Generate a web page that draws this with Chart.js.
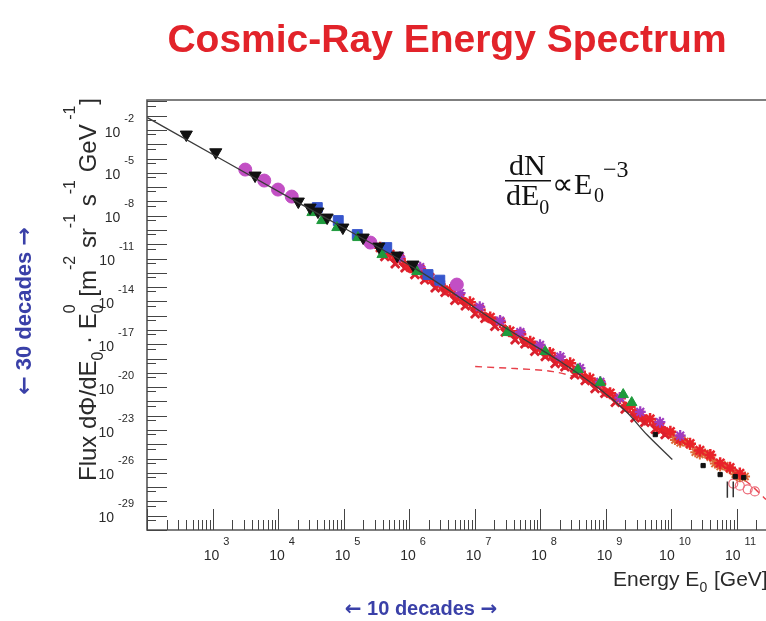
<!DOCTYPE html>
<html>
<head>
<meta charset="utf-8">
<script src="https://cdn.jsdelivr.net/npm/chart.js@4.4.1/dist/chart.umd.min.js"></script>
<style>
  html, body { margin: 0; padding: 0; background: #fff; }
  canvas { display: block; }
</style>
</head>
<body>
<canvas id="spectrum" width="766" height="621"></canvas>
<script>
// values, as log10 (E in GeV, flux in m^-2 sr^-1 s^-1 GeV^-1)
const xTickExps = [3, 4, 5, 6, 7, 8, 9, 10, 11];
const yTickExps = [-2, -5, -8, -11, -14, -17, -20, -23, -26, -29];

const blackTriE = [2.60, 3.05, 3.65, 4.31, 4.49, 4.61, 4.75, 4.99, 5.30, 5.54, 5.82, 6.06];
const blackTriF = [-2.32, -3.56, -5.19, -7.01, -7.43, -7.71, -8.13, -8.83, -9.53, -10.16, -10.79, -11.42];

const magentaE = [3.50, 3.79, 4.00, 4.21, 5.41, 6.73];
const magentaF = [-4.77, -5.54, -6.17, -6.66, -9.88, -12.82];

const greenE = [4.52, 4.67, 4.90, 5.22, 5.59, 6.12, 7.50, 8.08, 8.58, 8.92, 9.27, 9.40];
const greenF = [-7.78, -8.34, -8.83, -9.53, -10.72, -11.91, -16.18, -17.51, -18.77, -19.68, -20.52, -21.08];

const blueE = [4.60, 4.92, 5.21, 5.66, 6.29, 6.47];
const blueF = [-7.43, -8.34, -9.32, -10.23, -12.12, -12.51];

const purpleE = [5.86, 6.17, 6.47, 6.78, 7.08, 7.39, 7.70, 8.00, 8.31, 8.61, 8.92, 9.22, 9.53, 9.83, 10.14];
const purpleF = [-10.88, -11.60, -12.61, -13.42, -14.38, -15.34, -16.15, -17.04, -17.86, -18.67, -19.63, -20.73, -21.73, -22.45, -23.39];

const redStarE = [5.56, 5.71, 5.86, 6.02, 6.17, 6.32, 6.47, 6.63, 6.78, 6.93, 7.08, 7.24, 7.39, 7.54, 7.70, 7.85, 8.00, 8.15, 8.31, 8.46,
  8.61, 8.76, 8.92, 9.07, 9.22, 9.37, 9.53, 9.68, 9.83, 9.99, 10.14, 10.29, 10.44, 10.60, 10.75, 10.90, 11.05];
const redStarF = [-10.24, -10.71, -11.03, -11.60, -11.75, -12.34, -12.81, -13.20, -13.77, -14.06, -14.58, -15.12, -15.44, -16.08, -16.30,
  -16.82, -17.29, -17.61, -18.11, -18.33, -18.92, -19.39, -19.78, -20.42, -20.78, -21.37, -21.98, -22.23, -22.80, -23.12,
  -23.64, -23.96, -24.43, -24.75, -25.32, -25.64, -26.04];

const redCrossE = [5.63, 5.79, 5.94, 6.09, 6.24, 6.40, 6.55, 6.70, 6.86, 7.01, 7.16, 7.31, 7.47, 7.62, 7.77, 7.92, 8.08, 8.23, 8.38, 8.53,
  8.69, 8.84, 8.99, 9.15, 9.30, 9.45, 9.60, 9.76, 9.91];
const redCrossF = [-10.85, -11.37, -11.64, -12.12, -12.49, -13.05, -13.35, -13.91, -14.31, -14.87, -15.18, -15.73, -16.14, -16.69, -16.96,
  -17.48, -17.85, -18.34, -18.57, -19.13, -19.53, -20.09, -20.43, -21.05, -21.53, -22.15, -22.46, -22.94, -23.31];

// middle of the dense red band
const redMidE = [5.63, 5.79, 5.94, 6.09, 6.24, 6.40, 6.55, 6.70, 6.86, 7.01, 7.16, 7.31, 7.47, 7.62, 7.77, 7.92, 8.08, 8.23, 8.38, 8.53,
  8.69, 8.84, 8.99, 9.15, 9.30, 9.45, 9.60, 9.76, 9.91];
const redMidF = [-10.60, -11.10, -11.45, -11.85, -12.30, -12.70, -13.22, -13.62, -14.12, -14.52, -15.05, -15.45, -15.96, -16.36, -16.83,
  -17.20, -17.67, -18.02, -18.45, -18.85, -19.35, -19.76, -20.30, -20.78, -21.36, -21.82, -22.33, -22.66, -23.14];

const orangeE = [9.99, 10.06, 10.14, 10.21, 10.29, 10.37, 10.44, 10.52, 10.60, 10.67, 10.75, 10.82, 10.90, 10.98, 11.05, 11.13];
const orangeF = [-23.25, -23.70, -23.90, -23.80, -24.05, -24.55, -24.72, -24.65, -24.90, -25.35, -25.55, -25.50, -25.75, -26.10, -26.30, -26.25];

const openCircE = [10.95, 11.05, 11.17, 11.28];
const openCircF = [-26.75, -26.90, -27.15, -27.30];

const blackDotE = [9.76, 10.49, 10.75, 10.98, 11.11];
const blackDotF = [-23.32, -25.49, -26.12, -26.26, -26.33];

const barE = [10.86, 10.95];
const barTopF = [-26.60, -26.60];
const barLowF = [-27.75, -27.70];

// model curves
const galacticE = [2.0, 4.31, 6.17, 7.39, 8.31, 8.92, 9.33, 9.63, 10.02];
const galacticF = [-1.12, -7.08, -11.91, -15.62, -18.21, -20.17, -21.78, -23.32, -25.07];

const extraE = [7.01, 7.62, 8.20, 8.69, 9.22, 9.60, 10.29, 10.90, 11.21, 11.45];
const extraF = [-18.56, -18.70, -18.91, -19.54, -20.94, -22.13, -24.09, -25.77, -26.82, -27.87];

const pts = (le, lf) => le.map((e, i) => ({ x: 10 ** e, y: 10 ** lf[i] }));
const bars = barE.flatMap((e, i) => [
  { x: 10 ** e, y: 10 ** barTopF[i] },
  { x: 10 ** e, y: 10 ** barLowF[i] },
  { x: 10 ** e, y: null },
]);

const SANS = '"Liberation Sans", Arial, Helvetica, sans-serif';
const SERIF = '"Liberation Serif", "Times New Roman", serif';
const ARROW = '"DejaVu Sans", sans-serif';

function powerLabel(ctx, exp, x, y, mode) {
  ctx.font = '14px ' + SANS;
  const wb = ctx.measureText('10').width;
  ctx.font = '11px ' + SANS;
  const we = ctx.measureText(exp).width;
  const gap = 4;
  const total = wb + gap + we;
  const left = mode === 'right' ? x - total : x - total / 2;
  ctx.font = '14px ' + SANS;
  ctx.fillText('10', left, y);
  ctx.font = '11px ' + SANS;
  ctx.fillText(exp, left + wb + gap, y - 15);
}

// parts: [text, kind], kind = '', 'sub', 'sup' or 'both'
function rich(ctx, parts, x, y, size, family, supShift) {
  let cx = x;
  const small = Math.round(size * 0.65);
  const up = supShift || size * 0.75;
  parts.forEach(([t, kind]) => {
    if (!kind) {
      ctx.font = size + 'px ' + family;
      ctx.fillText(t, cx, y);
      cx += ctx.measureText(t).width;
      return;
    }
    ctx.font = small + 'px ' + family;
    if (kind === 'sub' || kind === 'both') ctx.fillText(t, cx, y + size * 0.3);
    if (kind === 'sup' || kind === 'both') ctx.fillText(t, cx, y - up);
    cx += ctx.measureText(t).width + 1;
  });
  return cx - x;
}

// centred run of [text, font] pieces
function centredRun(ctx, pieces, cx, y) {
  const widths = pieces.map(([t, f]) => { ctx.font = f; return ctx.measureText(t).width; });
  let x = cx - widths.reduce((s, w) => s + w, 0) / 2;
  ctx.textAlign = 'left';
  pieces.forEach(([t, f], i) => { ctx.font = f; ctx.fillText(t, x, y); x += widths[i]; });
}

const decor = {
  id: 'decor',
  beforeDraw(chart) {
    const c = chart.ctx;
    c.save();
    c.fillStyle = '#fff';
    c.fillRect(0, 0, chart.width, chart.height);
    c.restore();
  },
  afterDraw(chart) {
    const ctx = chart.ctx;
    const xs = chart.scales.x, ys = chart.scales.y, a = chart.chartArea;
    ctx.save();

    // frame
    ctx.strokeStyle = '#555';
    ctx.lineWidth = 1.6;
    ctx.beginPath();
    ctx.moveTo(a.right, a.top);
    ctx.lineTo(a.left, a.top);
    ctx.lineTo(a.left, a.bottom);
    ctx.lineTo(a.right, a.bottom);
    ctx.stroke();

    // inside ticks
    ctx.strokeStyle = '#444';
    ctx.lineWidth = 1;
    ctx.beginPath();
    for (let d = 2; d <= 11; d++) {
      for (let m = 1; m <= 9; m++) {
        const v = m * 10 ** d;
        if (v > xs.max) break;
        const px = Math.round(xs.getPixelForValue(v)) + 0.5;
        ctx.moveTo(px, a.bottom);
        ctx.lineTo(px, a.bottom - (m === 1 ? 21 : 10));
      }
    }
    for (let d = -30; d <= 0; d++) {
      const py = Math.round(ys.getPixelForValue(10 ** d)) + 0.5;
      if (py > a.top + 1) { ctx.moveTo(a.left, py); ctx.lineTo(a.left + 20, py); }
      const ps = Math.round(ys.getPixelForValue(5 * 10 ** (d - 1))) + 0.5;
      if (ps > a.top + 1 && ps < a.bottom - 1) { ctx.moveTo(a.left, ps); ctx.lineTo(a.left + 9, ps); }
    }
    ctx.stroke();

    // tick labels
    ctx.fillStyle = '#2a2a2a';
    ctx.textAlign = 'left';
    ctx.textBaseline = 'alphabetic';
    xTickExps.forEach((e) => {
      powerLabel(ctx, String(e), xs.getPixelForValue(10 ** e) + 4, 560, 'center');
    });
    yTickExps.forEach((e) => {
      powerLabel(ctx, String(e), 134, ys.getPixelForValue(10 ** e) + 6.5, 'right');
    });

    // axis titles
    rich(ctx, [['Energy E'], ['0', 'sub'], [' [GeV]']], 613, 586, 21, SANS);

    ctx.save();
    ctx.translate(96, 481);
    ctx.rotate(-Math.PI / 2);
    rich(ctx, [
      ['Flux d\u03a6/dE'], ['0', 'sub'], [' \u00b7 E'], ['0', 'both'],
      [' [m'], ['-2', 'sup'], [' sr'], ['-1', 'sup'], [' s'], ['-1', 'sup'],
      [' GeV'], [' -1', 'sup'], [']'],
    ], 0, 0, 24, SANS, 21);
    ctx.restore();

    // formula dN/dE0 ∝ E0^-3
    ctx.fillStyle = '#111';
    ctx.font = '30px ' + SERIF;
    ctx.fillText('dN', 509, 175);
    ctx.fillRect(505, 180, 46, 1.5);
    rich(ctx, [['dE'], ['0', 'sub']], 506, 205, 30, SERIF);
    ctx.font = '30px ' + SERIF;
    ctx.fillText('\u221d', 552, 194);
    ctx.fillText('E', 574, 194);
    ctx.font = '20px ' + SERIF;
    ctx.fillText('0', 594, 202);
    ctx.font = '24px ' + SERIF;
    ctx.fillText('\u22123', 603, 177);

    // headline and annotations
    ctx.fillStyle = '#e2232a';
    ctx.textAlign = 'center';
    ctx.font = 'bold 39px ' + SANS;
    ctx.fillText('Cosmic-Ray Energy Spectrum', 447, 52);

    ctx.fillStyle = '#3a40a8';
    const hSans = 'bold 20px ' + SANS, hArrow = 'bold 20px ' + ARROW;
    centredRun(ctx, [['\u2190', hArrow], [' 10 decades ', hSans], ['\u2192', hArrow]], 421, 615);
    ctx.save();
    ctx.translate(31, 311);
    ctx.rotate(-Math.PI / 2);
    const vSans = 'bold 22px ' + SANS, vArrow = 'bold 22px ' + ARROW;
    centredRun(ctx, [['\u2190', vArrow], [' 30 decades ', vSans], ['\u2192', vArrow]], 0, 0);
    ctx.restore();

    ctx.restore();
  },
};

new Chart(document.getElementById('spectrum'), {
  type: 'scatter',
  data: {
    datasets: [
      { label: 'galactic', data: pts(galacticE, galacticF), showLine: true, borderColor: '#3a3a3a', borderWidth: 1.3, pointRadius: 0, tension: 0.3 },
      { label: 'black triangles', data: pts(blackTriE, blackTriF), pointStyle: 'triangle', rotation: 180, pointRadius: 7, backgroundColor: '#111', borderColor: '#111' },
      { label: 'black dots', data: pts(blackDotE, blackDotF), pointStyle: 'rect', pointRadius: 3, backgroundColor: '#111', borderColor: '#111' },
      { label: 'bars', data: bars, showLine: true, borderColor: '#333', borderWidth: 1.5, pointRadius: 0 },
      { label: 'magenta', data: pts(magentaE, magentaF), pointStyle: 'circle', pointRadius: 6.5, backgroundColor: '#c24fc4', borderColor: '#c24fc4' },
      { label: 'green', data: pts(greenE, greenF), pointStyle: 'triangle', pointRadius: 6, backgroundColor: '#1e9a3c', borderColor: '#1e9a3c' },
      { label: 'blue', data: pts(blueE, blueF), pointStyle: 'rect', pointRadius: 7, backgroundColor: '#3656cc', borderColor: '#3656cc' },
      { label: 'purple', data: pts(purpleE, purpleF), pointStyle: 'star', pointRadius: 5.5, borderWidth: 2.2, borderColor: '#a03cc0', backgroundColor: '#a03cc0' },
      { label: 'red stars', data: pts(redStarE, redStarF), pointStyle: 'star', pointRadius: 6, borderWidth: 2.5, borderColor: '#e8222a', backgroundColor: '#e8222a' },
      { label: 'red crosses', data: pts(redCrossE, redCrossF), pointStyle: 'crossRot', pointRadius: 6, borderWidth: 2.8, borderColor: '#d8202e', backgroundColor: '#d8202e' },
      { label: 'red middle', data: pts(redMidE, redMidF), pointStyle: 'rectRot', pointRadius: 5, borderWidth: 1, borderColor: '#e32a30', backgroundColor: '#e32a30' },
      { label: 'orange', data: pts(orangeE, orangeF), pointStyle: 'star', pointRadius: 5, borderWidth: 2, borderColor: '#dd6a38', backgroundColor: '#dd6a38' },
      { label: 'open circles', data: pts(openCircE, openCircF), pointStyle: 'circle', pointRadius: 4.5, borderWidth: 1.2, borderColor: '#ec6a78', backgroundColor: 'rgba(0,0,0,0)' },
      { label: 'extragalactic', data: pts(extraE, extraF), showLine: true, borderColor: '#e8404a', borderWidth: 1.4, borderDash: [7, 5], pointRadius: 0, tension: 0.3 },
    ],
  },
  options: {
    responsive: false,
    devicePixelRatio: 1,
    animation: false,
    events: [],
    layout: { autoPadding: false, padding: { left: 147, top: 100, right: 0, bottom: 91 } },
    plugins: { legend: { display: false }, tooltip: { enabled: false }, title: { display: false } },
    scales: {
      x: { type: 'logarithmic', min: 1e2, max: 10 ** 11.45, display: false },
      y: { type: 'logarithmic', min: 1e-30, max: 10 ** 0.1, display: false },
    },
  },
  plugins: [decor],
});
</script>
</body>
</html>
